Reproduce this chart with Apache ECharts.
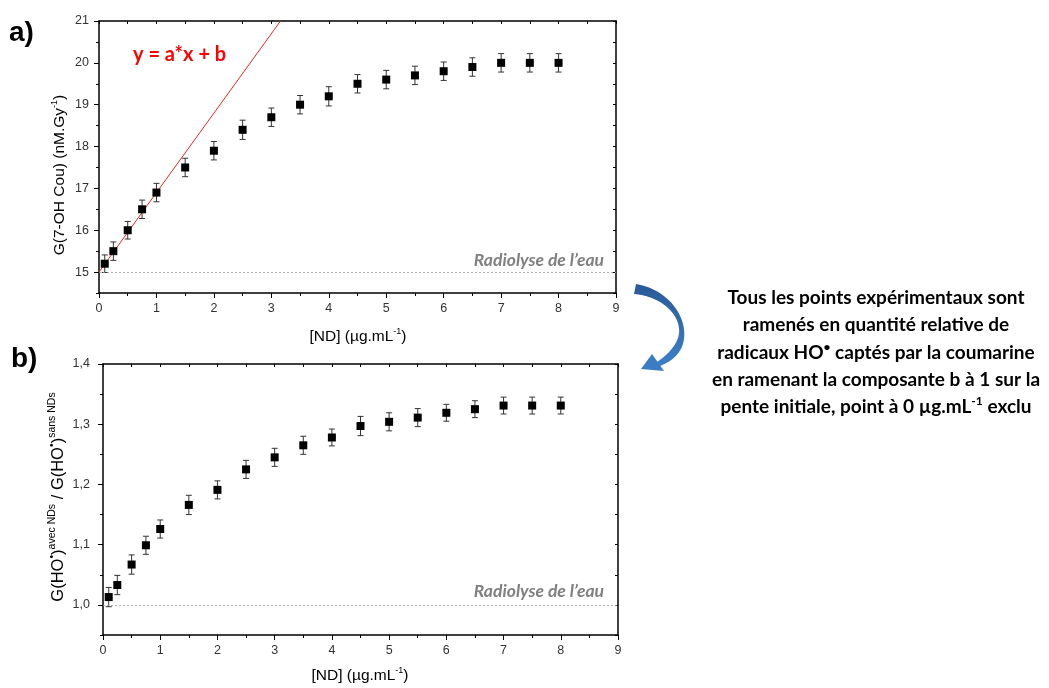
<!DOCTYPE html>
<html>
<head>
<meta charset="utf-8">
<script src="https://cdn.jsdelivr.net/npm/echarts@6/dist/echarts.min.js"></script>
<style>html,body{margin:0;padding:0;background:#fff}#c{width:1049px;height:688px}</style>
</head>
<body>
<div id="c"></div>
<script>
// ---- data ----
const ndConc = [0.1, 0.25, 0.5, 0.75, 1, 1.5, 2, 2.5, 3, 3.5, 4, 4.5, 5, 5.5, 6, 6.5, 7, 7.5, 8];
const gCou = [15.2, 15.5, 16.0, 16.5, 16.9, 17.5, 17.9, 18.4, 18.7, 19.0, 19.2, 19.5, 19.6, 19.7, 19.8, 19.9, 20.0, 20.0, 20.0];
const gCouErr = [0.21, 0.22, 0.21, 0.22, 0.22, 0.22, 0.22, 0.23, 0.22, 0.22, 0.23, 0.22, 0.22, 0.22, 0.22, 0.22, 0.22, 0.22, 0.22];
const ratio = [1.013, 1.033, 1.067, 1.099, 1.126, 1.166, 1.191, 1.225, 1.245, 1.265, 1.278, 1.297, 1.304, 1.311, 1.319, 1.325, 1.331, 1.331, 1.331];
const ratioErr = [0.016, 0.016, 0.016, 0.015, 0.015, 0.016, 0.015, 0.015, 0.015, 0.015, 0.014, 0.016, 0.015, 0.015, 0.014, 0.014, 0.014, 0.014, 0.014];
const fitLineX = [0, 3.16];
const fitLineY = [15.0, 21.0];
const waterLevelA = 15;
const waterLevelB = 1.0;
const yTicksA = [15, 16, 17, 18, 19, 20, 21];
const yTicksB = [1.0, 1.1, 1.2, 1.3, 1.4];

const chart = echarts.init(document.getElementById('c'), null, {renderer: 'canvas'});
const AX = '#000';
const LBL = {color: '#333', fontSize: 12.5, fontFamily: 'Liberation Sans'};

function xAxes(grid) {
  return [
    {gridIndex: grid, type: 'value', position: 'bottom', min: 0, max: 9, interval: 1,
     axisLine: {show: true, lineStyle: {color: AX, width: 1.5}},
     axisTick: {show: true, length: 5, lineStyle: {color: AX, width: 1}},
     minorTick: {show: true, splitNumber: 2, length: 3, lineStyle: {color: AX, width: 1}},
     splitLine: {show: false},
     axisLabel: Object.assign({margin: 9}, LBL)},
    {gridIndex: grid, type: 'value', position: 'top', min: 0, max: 9, interval: 0.5,
     axisLine: {show: true, lineStyle: {color: AX, width: 1.5}},
     axisTick: {show: true, inside: true, length: 3, lineStyle: {color: AX, width: 1}},
     splitLine: {show: false}, axisLabel: {show: false}}
  ];
}
function yAxes(grid, min, max, minorStep, majors, fmt, margin) {
  return [
    {gridIndex: grid, type: 'value', position: 'left', min: min, max: max, interval: minorStep,
     axisLine: {show: true, lineStyle: {color: AX, width: 1.5}},
     axisTick: {show: true, length: 3, lineStyle: {color: AX, width: 1}},
     splitLine: {show: false},
     axisLabel: Object.assign({margin: margin, customValues: majors, formatter: fmt}, LBL)},
    {gridIndex: grid, type: 'value', position: 'left', min: min, max: max, interval: minorStep,
     axisLine: {show: false},
     axisTick: {show: true, length: 5, customValues: majors, lineStyle: {color: AX, width: 1}},
     splitLine: {show: false}, axisLabel: {show: false}},
    {gridIndex: grid, type: 'value', position: 'right', min: min, max: max, interval: minorStep,
     axisLine: {show: true, lineStyle: {color: AX, width: 1.5}},
     axisTick: {show: true, inside: true, length: 3, lineStyle: {color: AX, width: 1}},
     splitLine: {show: false}, axisLabel: {show: false}}
  ];
}

function errRender(params, api) {
  const x = api.value(0), y = api.value(1), e = api.value(2);
  const t = api.coord([x, y + e]), b = api.coord([x, y - e]);
  const w = 3, st = {stroke: '#333', lineWidth: 1};
  return {type: 'group', children: [
    {type: 'line', shape: {x1: t[0], y1: t[1], x2: b[0], y2: b[1]}, style: st},
    {type: 'line', shape: {x1: t[0] - w, y1: t[1], x2: t[0] + w, y2: t[1]}, style: st},
    {type: 'line', shape: {x1: b[0] - w, y1: b[1], x2: b[0] + w, y2: b[1]}, style: st}
  ]};
}

const dashLine = (v) => ({
  silent: true, symbol: 'none', label: {show: false},
  lineStyle: {type: [2, 2], color: '#9a9a9a', width: 0.8},
  data: [{yAxis: v}]
});

// decorative curved arrow outline (sampled cubic beziers)
function bez(p0, p1, p2, p3, n) {
  const out = [];
  for (let i = 0; i <= n; i++) {
    const t = i / n, u = 1 - t;
    out.push([
      u*u*u*p0[0] + 3*u*u*t*p1[0] + 3*u*t*t*p2[0] + t*t*t*p3[0],
      u*u*u*p0[1] + 3*u*u*t*p1[1] + 3*u*t*t*p2[1] + t*t*t*p3[1]
    ]);
  }
  return out;
}
const arrowPts = [].concat(
  bez([636, 284], [668, 289], [690, 318], [683, 344], 20),
  bez([683, 344], [679, 356], [670, 362], [660, 366], 10),
  [[657, 362]],
  bez([657, 362], [666, 356], [677, 346], [679, 334], 10),
  bez([679, 334], [681, 316], [664, 297], [634, 294], 20)
);
const arrowFill = new echarts.graphic.LinearGradient(0, 0, 0, 1, [
  {offset: 0, color: '#285a96'}, {offset: 1, color: '#3d80c8'}
]);

const supRich = {
  n: {fontSize: 15.5, fontFamily: 'Liberation Sans', color: '#222', lineHeight: 20, verticalAlign: 'middle'},
  s: {fontSize: 9, fontFamily: 'Liberation Sans', color: '#222', lineHeight: 10, verticalAlign: 'middle', padding: [0, 0, 10, 0]}
};
const bigRich = {
  n: {fontSize: 16.5, fontFamily: 'Liberation Sans', color: '#222', lineHeight: 22, verticalAlign: 'middle'},
  s: {fontSize: 10.5, fontFamily: 'Liberation Sans', color: '#222', lineHeight: 11, verticalAlign: 'middle', padding: [0, 0, 11, 0]}
};
const noteRich = {
  n: {fontSize: 19, fontFamily: 'Lato', fontWeight: 'bold', color: '#1a1a1a', lineHeight: 27.3, verticalAlign: 'middle'},
  s: {fontSize: 12, fontFamily: 'Lato', fontWeight: 'bold', color: '#1a1a1a', lineHeight: 12, verticalAlign: 'middle', padding: [0, 0, 11, 0]}
};

const option = {
  animation: false,
  backgroundColor: '#fff',
  grid: [
    {left: 99, top: 21, width: 517, height: 272},
    {left: 103, top: 364, width: 515, height: 271}
  ],
  xAxis: [].concat(xAxes(0), xAxes(1)),
  yAxis: [].concat(
    yAxes(0, 14.5, 21, 0.5, yTicksA, v => String(Math.round(v)), 10),
    yAxes(1, 0.95, 1.4, 0.05, yTicksB, v => v.toFixed(1).replace('.', ','), 13)
  ),
  series: [
    {type: 'line', xAxisIndex: 0, yAxisIndex: 0, data: fitLineX.map((x, i) => [x, fitLineY[i]]),
     symbol: 'none', clip: true, lineStyle: {color: '#ff2020', width: 1}, z: 3},
    {type: 'custom', xAxisIndex: 0, yAxisIndex: 0, renderItem: errRender,
     data: ndConc.map((x, i) => [x, gCou[i], gCouErr[i]]), encode: {x: 0, y: 1}, z: 4,
     markLine: dashLine(waterLevelA)},
    {type: 'scatter', xAxisIndex: 0, yAxisIndex: 0, symbol: 'rect', symbolSize: 8,
     itemStyle: {color: '#000', opacity: 1}, data: ndConc.map((x, i) => [x, gCou[i]]), z: 5},
    {type: 'custom', xAxisIndex: 2, yAxisIndex: 3, renderItem: errRender,
     data: ndConc.map((x, i) => [x, ratio[i], ratioErr[i]]), encode: {x: 0, y: 1}, z: 4,
     markLine: dashLine(waterLevelB)},
    {type: 'scatter', xAxisIndex: 2, yAxisIndex: 3, symbol: 'rect', symbolSize: 8,
     itemStyle: {color: '#000', opacity: 1}, data: ndConc.map((x, i) => [x, ratio[i]]), z: 5}
  ],
  graphic: [
    {type: 'text', x: 9, y: 33, style: {text: 'a)', font: 'bold 28px "Liberation Sans"', fill: '#000', verticalAlign: 'middle'}},
    {type: 'text', x: 11, y: 359, style: {text: 'b)', font: 'bold 28px "Liberation Sans"', fill: '#000', verticalAlign: 'middle'}},
    {type: 'text', x: 133, y: 55, style: {text: 'y = a*x + b', font: 'bold 20px Lato', fill: '#ff0000', verticalAlign: 'middle'}},
    {type: 'text', x: 604, y: 260, style: {text: 'Radiolyse de l\u2019eau', font: 'italic bold 17.5px Lato', fill: '#808080', align: 'right', verticalAlign: 'middle'}},
    {type: 'text', x: 604, y: 591, style: {text: 'Radiolyse de l\u2019eau', font: 'italic bold 17.5px Lato', fill: '#808080', align: 'right', verticalAlign: 'middle'}},
    {type: 'text', x: 358, y: 337, style: {text: '{n|[ND] (µg.mL}{s|-1}{n|)}', rich: supRich, align: 'center', verticalAlign: 'middle'}},
    {type: 'text', x: 360, y: 676, style: {text: '{n|[ND] (µg.mL}{s|-1}{n|)}', rich: supRich, align: 'center', verticalAlign: 'middle'}},
    {type: 'text', x: 60, y: 175, rotation: Math.PI / 2,
     style: {text: '{n|G(7-OH Cou) (nM.Gy}{s|-1}{n|)}', rich: supRich, align: 'center', verticalAlign: 'middle'}},
    {type: 'text', x: 58, y: 497, rotation: Math.PI / 2,
     style: {text: '{n|G(HO}{s|\u2022}{n|)}{s|avec NDs}{n| / G(HO}{s|\u2022}{n|)}{s|sans NDs}', rich: bigRich, align: 'center', verticalAlign: 'middle'}},
    {type: 'text', x: 876, y: 352.5,
     style: {text: [
       '{n|Tous les points expérimentaux sont}',
       '{n|ramenés en quantité relative de}',
       '{n|radicaux HO}{s|\u2022}{n| captés par la coumarine}',
       '{n|en ramenant la composante b à 1 sur la}',
       '{n|pente initiale, point à 0 µg.mL}{s|-1}{n| exclu}'
     ].join('\n'), rich: noteRich, align: 'center', verticalAlign: 'middle'}},
    {type: 'polygon', shape: {points: arrowPts}, style: {fill: arrowFill}},
    {type: 'polygon', shape: {points: [[664, 371], [641, 369], [652, 354]]}, style: {fill: '#3b7cc4'}}
  ]
};
chart.setOption(option);
</script>
</body>
</html>
